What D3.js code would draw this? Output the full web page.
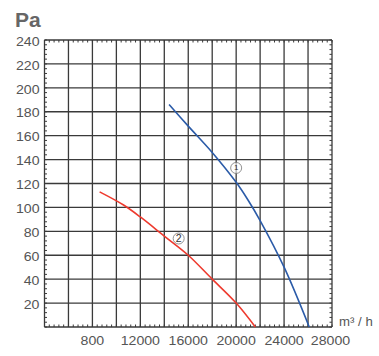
<!DOCTYPE html>
<html><head><meta charset="utf-8">
<script src="https://cdn.jsdelivr.net/npm/d3@7"></script>
<style>html,body{margin:0;padding:0;background:#fff;}svg{display:block;}</style>
</head><body>
<script>
// Data
const xTickValues = [8000, 12000, 16000, 20000, 24000, 28000];
const xTickLabels = ["800", "12000", "16000", "20000", "24000", "28000"];
const yTickValues = [20, 40, 60, 80, 100, 120, 140, 160, 180, 200, 220, 240];
const curve1X = [14400, 16000, 18000, 20000, 21000, 22000, 24000, 26100];
const curve1Y = [186, 168, 146, 121, 106, 89, 50, 0];
const curve2X = [8600, 10600, 12000, 14000, 16000, 18000, 20000, 21600];
const curve2Y = [113, 102, 92, 76, 60, 40, 20, 0];
const labels = [{text: "1", x: 20000, y: 133}, {text: "2", x: 15200, y: 74}];

const W = 379, H = 356;
const svg = d3.select("body").append("svg").attr("width", W).attr("height", H);
const x = d3.scaleLinear().domain([4000, 28000]).range([44.5, 332]);
const y = d3.scaleLinear().domain([0, 240]).range([327, 40]);
const gridColor = "#3a3a3a";
const textColor = "#555";

// grid
const g = svg.append("g");
g.selectAll(".vg").data(d3.range(4000, 28001, 2000)).join("line")
  .attr("x1", d => x(d)).attr("x2", d => x(d)).attr("y1", y(0)).attr("y2", y(240))
  .attr("stroke", gridColor).attr("stroke-width", 1.3);
g.selectAll(".hg").data(d3.range(0, 241, 20)).join("line")
  .attr("y1", d => y(d)).attr("y2", d => y(d)).attr("x1", x(4000)).attr("x2", x(28000))
  .attr("stroke", gridColor).attr("stroke-width", 1.3);

// minor ticks (inside)
const mx = d3.range(4000, 28001, 400);
const my = d3.range(0, 241, 4);
const tl = 2.5;
g.selectAll(".mxb").data(mx).join("line")
  .attr("x1", d => x(d)).attr("x2", d => x(d)).attr("y1", y(0)).attr("y2", y(0) - tl)
  .attr("stroke", gridColor).attr("stroke-width", 1);
g.selectAll(".mxt").data(mx).join("line")
  .attr("x1", d => x(d)).attr("x2", d => x(d)).attr("y1", y(240)).attr("y2", y(240) + tl)
  .attr("stroke", gridColor).attr("stroke-width", 1);
g.selectAll(".myl").data(my).join("line")
  .attr("y1", d => y(d)).attr("y2", d => y(d)).attr("x1", x(4000)).attr("x2", x(4000) + tl)
  .attr("stroke", gridColor).attr("stroke-width", 1);
g.selectAll(".myr").data(my).join("line")
  .attr("y1", d => y(d)).attr("y2", d => y(d)).attr("x1", x(28000)).attr("x2", x(28000) - tl)
  .attr("stroke", gridColor).attr("stroke-width", 1);

// tick labels
const font = "'Liberation Sans', Arial, sans-serif";
svg.selectAll(".yl").data(yTickValues).join("text")
  .attr("transform", d => `translate(39.5,${y(d) + 2.5}) scale(1.18,1)`)
  .attr("text-anchor", "end").attr("dominant-baseline", "middle")
  .attr("font-family", font).attr("font-size", 12).attr("fill", textColor)
  .text(d => d);
svg.selectAll(".xl").data(xTickValues).join("text")
  .attr("transform", (d, i) => `translate(${x(d) - (i === 5 ? 1.5 : 0)},344.5) scale(1.18,1)`)
  .attr("text-anchor", "middle")
  .attr("font-family", font).attr("font-size", 12).attr("fill", textColor)
  .text((d, i) => xTickLabels[i]);

svg.append("text").attr("x", 15).attr("y", 26.5)
  .attr("font-family", font).attr("font-size", 21).attr("font-weight", "bold")
  .attr("fill", "#666").text("Pa");
svg.append("text").attr("transform", "translate(339,326) scale(1.1,1)")
  .attr("font-family", font).attr("font-size", 12).attr("fill", textColor)
  .text("m³ / h");

// curves
const line = d3.line().x(d => x(d[0])).y(d => y(d[1])).curve(d3.curveCatmullRom.alpha(0.5));
svg.append("path").datum(d3.zip(curve1X, curve1Y))
  .attr("d", line).attr("fill", "none").attr("stroke", "#2b5ba8").attr("stroke-width", 1.6);
svg.append("path").datum(d3.zip(curve2X, curve2Y))
  .attr("d", line).attr("fill", "none").attr("stroke", "#ee3a2e").attr("stroke-width", 1.6);

// circled labels
const lg = svg.selectAll(".lab").data(labels).join("g")
  .attr("transform", d => `translate(${x(d.x)},${y(d.y)})`);
lg.append("circle").attr("r", 5.5).attr("fill", "#fff").attr("fill-opacity", 0.6)
  .attr("stroke", "#777").attr("stroke-width", 0.8);
lg.append("text").attr("text-anchor", "middle").attr("y", d => d.text === "1" ? 2.5 : 3.8)
  .attr("font-family", font).attr("font-size", d => d.text === "1" ? 8 : 10.5)
  .attr("fill", "#333").text(d => d.text);
</script>
</body></html>
